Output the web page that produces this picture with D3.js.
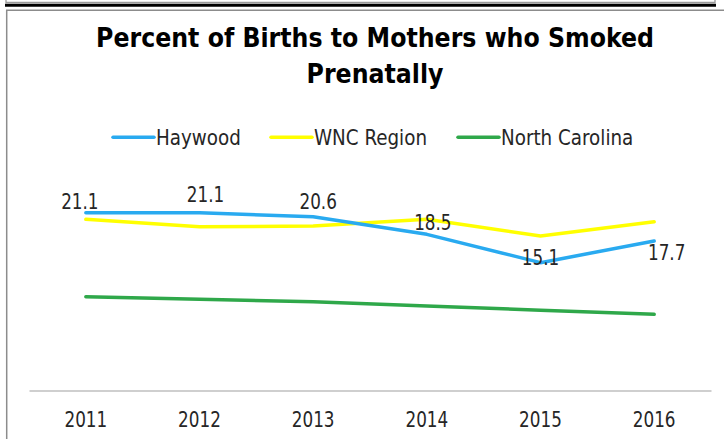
<!DOCTYPE html>
<html><head><meta charset="utf-8">
<script src="https://cdn.jsdelivr.net/npm/d3@7/dist/d3.min.js"></script>
<style>
html,body{margin:0;padding:0;background:#fff;}
svg{display:block;}
text{font-family:"Liberation Sans Narrow","DejaVu Sans Condensed","Arial Narrow",sans-serif;}
</style></head>
<body><svg id="chart" width="724" height="439"></svg>
<script>
const years = ["2011","2012","2013","2014","2015","2016"];
const haywood = [21.1, 21.1, 20.6, 18.5, 15.1, 17.7];
const wnc = [20.3, 19.4, 19.5, 20.3, 18.3, 20.0];
const nc = [11.0, 10.7, 10.4, 9.9, 9.4, 8.9];
const seriesNames = ["Haywood", "WNC Region", "North Carolina"];
const seriesColors = ["#29aaf0", "#ffff00", "#2fa84a"];
const titleLines = ["Percent of Births to Mothers who Smoked", "Prenatally"];
// label offsets (dx, dy) relative to each Haywood point
const labelOffsets = [[-6,-4],[6,-11],[5,-8],[6,-4],[0,2.5],[12.5,18.5]];

const svg = d3.select("#chart");

// frames
svg.append("path").attr("d","M6,0V2.5H715V0").attr("fill","none").attr("stroke","#9a9a9a").attr("stroke-width",1.3);
svg.append("line").attr("x1",5).attr("x2",716).attr("y1",5.3).attr("y2",5.3).attr("stroke","#000").attr("stroke-width",3);
svg.append("path").attr("d","M6.7,439V10.2H724").attr("fill","none").attr("stroke","#8c8c8c").attr("stroke-width",1.5);

const x = d3.scaleBand().domain(years).range([29, 711]);
const y = d3.scaleLinear().domain([0, 25]).range([388.5, 388.5 - 25*8.333]);
const cx = d => x(d) + x.bandwidth()/2;

const SX_DIGIT = 0.89, SX_LEGEND = 0.97, SX_TITLE = 0.975;

// title
svg.append("g").selectAll("text").data(titleLines).join("text")
  .attr("transform",(d,i)=>`translate(375,${47 + i*36}) scale(${SX_TITLE},1)`)
  .attr("text-anchor","middle").attr("font-weight","bold").attr("font-size",27)
  .attr("fill","#000").text(d => d);

// legend
const legendX = [113, 271, 458];
const lg = svg.append("g").selectAll("g").data(seriesNames).join("g")
  .attr("transform",(d,i)=>`translate(${legendX[i]},137.3)`);
lg.append("line").attr("x1",0).attr("x2",41).attr("y1",0).attr("y2",0)
  .attr("stroke",(d,i)=>seriesColors[i]).attr("stroke-width",3.5).attr("stroke-linecap","round");
lg.append("text").attr("transform",`translate(43,8) scale(${SX_LEGEND},1)`)
  .attr("font-size",21).attr("fill","#262626").text(d=>d);

// x axis
const axisG = svg.append("g").attr("transform",`translate(0,${y(0)+2})`)
  .call(d3.axisBottom(x).tickSize(0).tickPadding(0));
axisG.select(".domain").attr("stroke","#bfbfbf").attr("stroke-width",1.5);
axisG.selectAll(".tick text").attr("font-size",21).attr("fill","#262626")
  .attr("font-family",'"Liberation Sans Narrow","DejaVu Sans Condensed",sans-serif')
  .attr("dy",null).attr("y",null)
  .attr("transform",`translate(0,36) scale(${SX_DIGIT},1)`);

// lines
const line = d3.line().x((d,i)=>cx(years[i])).y(d=>y(d));
const allSeries = [wnc, nc, haywood];
const order = [1, 2, 0];
svg.append("g").selectAll("path").data(allSeries).join("path")
  .attr("d", d => line(d)).attr("fill","none")
  .attr("stroke",(d,i)=>seriesColors[order[i]]).attr("stroke-width",3.5)
  .attr("stroke-linejoin","round").attr("stroke-linecap","round");

// data labels (Haywood)
svg.append("g").selectAll("text").data(haywood).join("text")
  .attr("transform",(d,i)=>`translate(${cx(years[i]) + labelOffsets[i][0]},${y(d) + labelOffsets[i][1]}) scale(${SX_DIGIT},1)`)
  .attr("text-anchor","middle").attr("font-size",21).attr("fill","#262626")
  .text(d=>d.toFixed(1));
</script></body></html>
